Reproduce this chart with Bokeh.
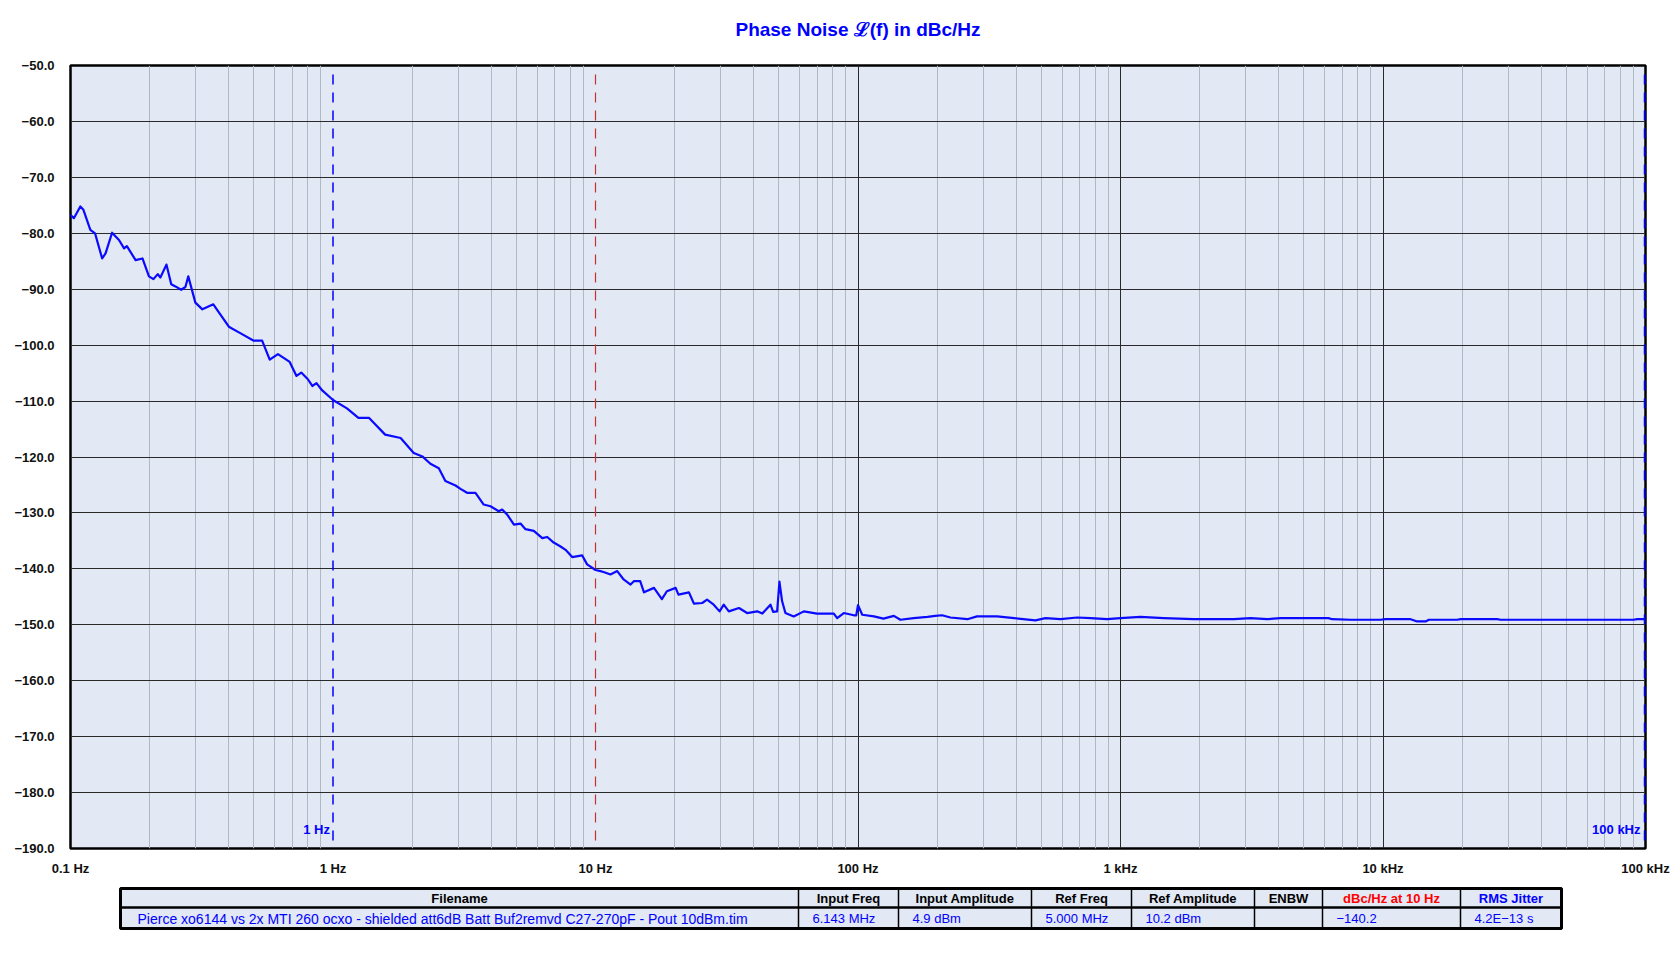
from bokeh.plotting import figure
from bokeh.models import FixedTicker, Range1d
from bokeh.layouts import column
from bokeh.core.properties import value
from bokeh.embed import file_html
from bokeh.resources import INLINE

# ---------------- data ----------------
freq_hz = [0.100, 0.103, 0.109, 0.112, 0.119, 0.124, 0.132, 0.136, 0.144, 0.153,
           0.160, 0.164, 0.177, 0.188, 0.199, 0.207, 0.215, 0.220, 0.232, 0.242,
           0.251, 0.264, 0.274, 0.281, 0.299, 0.318, 0.350, 0.401, 0.445, 0.499,
           0.537, 0.574, 0.617, 0.684, 0.726, 0.757, 0.802, 0.834, 0.865, 0.910,
           1.00, 1.13, 1.25, 1.37, 1.58, 1.81, 2.03, 2.19, 2.35, 2.53,
           2.68, 2.93, 3.06, 3.24, 3.49, 3.75, 3.98, 4.28, 4.41, 4.61,
           4.89, 5.18, 5.41, 5.82, 6.27, 6.55, 6.93, 7.36, 7.69, 8.15,
           8.90, 9.29, 10.0, 10.45, 10.8, 11.4, 12.1, 12.8, 13.6, 14.0,
           14.8, 15.3, 16.7, 17.9, 18.7, 20.2, 20.7, 22.7, 23.7, 25.5,
           26.6, 28.2, 29.7, 30.8, 32.2, 35.2, 37.8, 41.3, 43.2, 46.4,
           47.5, 49.2, 50.2, 51.4, 52.9, 56.9, 62.2, 69.8, 80.9, 83.3,
           88.3, 96.4, 98.5, 100.0, 103.8, 115, 125, 137, 145, 163,
           184, 197, 209, 225, 261, 284, 339, 393, 474, 518,
           591, 684, 769, 889, 1000, 1191, 1462, 1901, 2704, 3126,
           3622, 4074, 6200, 6400, 7520, 9780, 10230, 12740, 13500, 14520,
           14960, 19190, 19730, 27230, 28050, 90200, 92900, 100000]
noise_dbc = [-76.7, -77.3, -75.2, -75.8, -79.4, -80.0, -84.5, -83.6, -79.9, -81.2,
             -82.7, -82.3, -84.8, -84.5, -87.7, -88.2, -87.3, -87.9, -85.6, -89.1,
             -89.5, -90.1, -89.6, -87.7, -92.4, -93.6, -92.7, -96.7, -97.9, -99.2,
             -99.2, -102.6, -101.6, -103.0, -105.5, -104.9, -106.1, -107.3, -106.8, -108.1,
             -109.8, -111.3, -113.0, -113.0, -116.0, -116.6, -119.3, -119.9, -121.2, -122.0,
             -124.3, -125.1, -125.7, -126.4, -126.4, -128.5, -128.8, -129.7, -129.4, -130.3,
             -132.1, -131.9, -132.9, -133.2, -134.5, -134.3, -135.3, -136.0, -136.6, -137.9,
             -137.6, -139.2, -140.2, -140.4, -140.6, -141.0, -140.4, -141.9, -142.8, -142.2,
             -142.2, -144.2, -143.4, -145.4, -144.0, -143.4, -144.6, -144.2, -146.2, -146.1,
             -145.5, -146.4, -147.6, -146.4, -147.6, -147.0, -147.9, -147.6, -148.0, -146.4,
             -147.7, -147.6, -142.3, -145.8, -147.9, -148.5, -147.6, -148.0, -148.0, -148.8,
             -147.9, -148.3, -148.3, -146.5, -148.2, -148.5, -148.9, -148.4, -149.1, -148.8,
             -148.6, -148.4, -148.3, -148.7, -149.0, -148.5, -148.5, -148.8, -149.2, -148.8,
             -149.0, -148.7, -148.8, -149.0, -148.8, -148.6, -148.8, -149.0, -149.0, -148.8,
             -149.0, -148.8, -148.8, -149.0, -149.1, -149.1, -149.0, -149.0, -149.4, -149.4,
             -149.1, -149.1, -149.0, -149.0, -149.1, -149.1, -149.0, -149.0]

x_ticks = [0.1, 1, 10, 100, 1000, 10000, 100000]
x_tick_labels = ["0.1 Hz", "1 Hz", "10 Hz", "100 Hz", "1 kHz", "10 kHz", "100 kHz"]
y_ticks = [-190, -180, -170, -160, -150, -140, -130, -120, -110, -100, -90, -80, -70, -60, -50]
y_tick_labels = ["\u2212190.0", "\u2212180.0", "\u2212170.0", "\u2212160.0", "\u2212150.0",
                 "\u2212140.0", "\u2212130.0", "\u2212120.0", "\u2212110.0", "\u2212100.0",
                 "\u221290.0", "\u221280.0", "\u221270.0", "\u221260.0", "\u221250.0"]

marker_freqs = [1, 10, 100000]
marker_colors = ["#0000ff", "#c83030", "#0000ff"]
marker_widths = [1.5, 1.2, 3.5]
marker_label_freqs = [1, 100000]
marker_label_texts = ["1 Hz", "100 kHz"]

title_text = "Phase Noise \u2112(f) in dBc/Hz"

table_headers = ["Filename", "Input Freq", "Input Amplitude", "Ref Freq", "Ref Amplitude",
                 "ENBW", "dBc/Hz at 10 Hz", "RMS Jitter"]
table_header_colors = ["black", "black", "black", "black", "black", "black", "#ff0000", "#0000ff"]
table_filename = "Pierce xo6144 vs 2x MTI 260 ocxo - shielded att6dB Batt Buf2remvd C27-270pF - Pout 10dBm.tim"
table_values = ["6.143 MHz", "4.9 dBm", "5.000 MHz", "10.2 dBm", "", "\u2212140.2", "4.2E\u221213 s"]

FONT = "Liberation Sans, Arial, sans-serif"
BG = "#e2e8f4"
W = 1672
BL, BR = 70, 27   # frame spans page x 70..1645


def blank(height, y0, y1):
    f = figure(width=W, height=height, x_range=Range1d(BL, BL + 1575), y_range=Range1d(y1, y0),
               output_backend="svg", toolbar_location=None,
               min_border_left=BL, min_border_right=BR, min_border_top=0, min_border_bottom=0)
    f.axis.visible = False
    f.grid.visible = False
    f.outline_line_color = None
    f.background_fill_color = "white"
    return f


# ---------------- title ----------------
tt = blank(50, 0, 50)
tt.text(x=[857.5], y=[29], text=[title_text], text_align="center", text_baseline="middle",
        text_color="#0000ff", text_font=value(FONT), text_font_style="bold",
        text_font_size="19px")

# ---------------- main plot ----------------
p = figure(width=W, height=828, x_axis_type="log",
           x_range=Range1d(0.1, 100000), y_range=Range1d(-190, -50),
           output_backend="svg", toolbar_location=None,
           min_border_left=BL, min_border_right=BR, min_border_top=15, min_border_bottom=29)
p.background_fill_color = BG
p.border_fill_color = "white"
p.outline_line_color = "black"
p.outline_line_width = 2.5

minor = [m * d for d in x_ticks[:-1] for m in range(2, 10)]
p.xaxis.ticker = FixedTicker(ticks=x_ticks)
p.xaxis.major_label_overrides = {t: s for t, s in zip(x_ticks, x_tick_labels)}
p.yaxis.ticker = FixedTicker(ticks=y_ticks)
p.yaxis.major_label_overrides = {t: s for t, s in zip(y_ticks, y_tick_labels)}
for ax in (p.xaxis, p.yaxis):
    ax.axis_line_color = None
    ax.major_tick_line_color = None
    ax.minor_tick_line_color = None
    ax.major_label_text_font = FONT
    ax.major_label_text_font_style = "bold"
    ax.major_label_text_font_size = "13px"
    ax.major_label_text_color = "#111111"
p.xaxis.major_label_standoff = 6
p.yaxis.major_label_standoff = 10

# dark decade lines only where no marker line sits
grid_major = [t for t in x_ticks if t not in marker_freqs]
p.xgrid.ticker = FixedTicker(ticks=grid_major, minor_ticks=minor)
p.xgrid.grid_line_color = "#2a2a2a"
p.xgrid.grid_line_width = 1
p.xgrid.minor_grid_line_color = "#b0b8c6"
p.xgrid.minor_grid_line_width = 1
p.ygrid.ticker = FixedTicker(ticks=y_ticks)
p.ygrid.grid_line_color = "#2a2a2a"
p.ygrid.grid_line_width = 1

# marker lines (dashed)
for mf, mc, mw in zip(marker_freqs, marker_colors, marker_widths):
    p.line(x=[mf, mf], y=[-51.6, -190], line_color=mc, line_width=mw, line_dash="10 8")
p.text(x=marker_label_freqs, y=[-186.6] * len(marker_label_freqs), text=marker_label_texts,
       text_align="right", text_baseline="middle", x_offset=[-3, -5],
       text_color="#0000ff", text_font=value(FONT), text_font_style="bold",
       text_font_size="13px")

# trace
p.line(freq_hz, noise_dbc, line_color="#0a0aff", line_width=2.2, line_join="round")

# ---------------- table ----------------
t = blank(82, 878, 960)
col_edges = [120, 798, 898, 1031, 1131, 1254, 1322, 1460, 1561]
top, mid, bot = 888, 907, 928
t.quad(left=[col_edges[0]], right=[col_edges[-1]], top=[top], bottom=[bot],
       fill_color=BG, line_color=None)
t.segment(x0=col_edges[1:-1], y0=[top] * 7, x1=col_edges[1:-1], y1=[bot] * 7,
          line_color="black", line_width=1.5)
t.segment(x0=[col_edges[0]], y0=[mid], x1=[col_edges[-1]], y1=[mid],
          line_color="black", line_width=2.5)
t.quad(left=[col_edges[0]], right=[col_edges[-1]], top=[top], bottom=[bot],
       fill_color=None, line_color="black", line_width=3)

centers = [(a + b) / 2 for a, b in zip(col_edges[:-1], col_edges[1:])]
t.text(x=centers, y=[(top + mid) / 2 + 0.5] * 8, text=table_headers, text_color=table_header_colors,
       text_align="center", text_baseline="middle", text_font=value(FONT),
       text_font_style="bold", text_font_size="13px")
t.text(x=[col_edges[0] + 17], y=[(mid + bot) / 2 + 0.5], text=[table_filename], text_color="#0000ff",
       text_align="left", text_baseline="middle", text_font=value(FONT),
       text_font_size="14px")
lefts = [e + 14 for e in col_edges[1:-1]]
t.text(x=lefts, y=[(mid + bot) / 2 + 0.5] * 7, text=table_values, text_color="#0000ff",
       text_align="left", text_baseline="middle", text_font=value(FONT),
       text_font_size="13px")

layout = column(tt, p, t, spacing=0)
open("out.html", "w").write(file_html(layout, INLINE))
